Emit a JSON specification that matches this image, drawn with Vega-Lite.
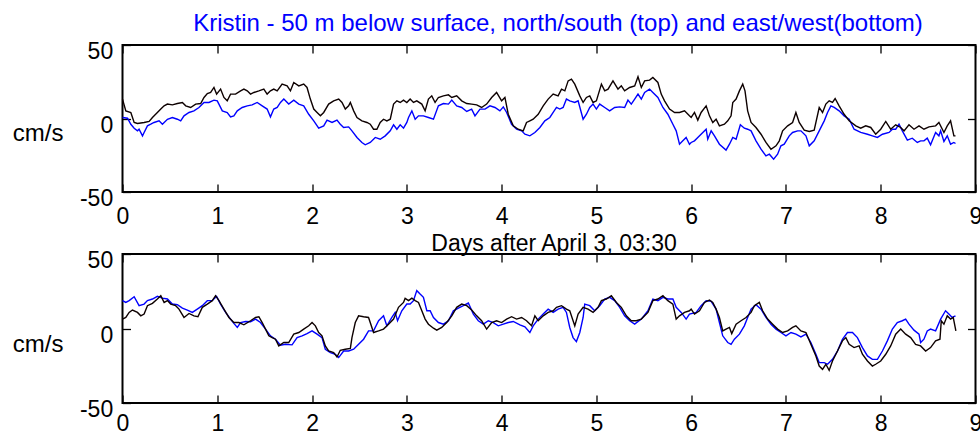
{
  "$schema": "https://vega.github.io/schema/vega-lite/v6.json",
  "usermeta": {"embedOptions": {"actions": false}},
  "background": "white",
  "padding": {"left": 10.5, "top": 10, "right": 0, "bottom": 0},
  "bounds": "flush",
  "spacing": 62,
  "datasets": {
    "ns_black": [
      {"day":0,"speed":13.2},{"day":0.035,"speed":5.2},{"day":0.088,"speed":4.1},{"day":0.123,"speed":-2.7},{"day":0.158,"speed":-3.4},{"day":0.228,"speed":-2.7},{"day":0.281,"speed":-2.0},{"day":0.316,"speed":0.7},{"day":0.368,"speed":4.1},{"day":0.404,"speed":6.4},{"day":0.439,"speed":8.6},{"day":0.474,"speed":9.8},{"day":0.526,"speed":9.3},{"day":0.579,"speed":10.2},{"day":0.632,"speed":10.9},{"day":0.667,"speed":8.6},{"day":0.719,"speed":7.5},{"day":0.772,"speed":9.8},{"day":0.825,"speed":10.2},{"day":0.86,"speed":14.3},{"day":0.895,"speed":17.0},{"day":0.93,"speed":17.7},{"day":0.965,"speed":21.1},{"day":0.993,"speed":16.6},{"day":1.035,"speed":20.0},{"day":1.07,"speed":14.3},{"day":1.105,"speed":12.0},{"day":1.14,"speed":16.6},{"day":1.193,"speed":16.6},{"day":1.246,"speed":18.8},{"day":1.281,"speed":20.0},{"day":1.316,"speed":18.8},{"day":1.351,"speed":16.6},{"day":1.386,"speed":17.7},{"day":1.439,"speed":18.8},{"day":1.491,"speed":20.0},{"day":1.526,"speed":16.6},{"day":1.561,"speed":18.8},{"day":1.596,"speed":20.0},{"day":1.632,"speed":18.8},{"day":1.684,"speed":23.4},{"day":1.737,"speed":22.2},{"day":1.772,"speed":18.8},{"day":1.807,"speed":24.5},{"day":1.86,"speed":22.2},{"day":1.912,"speed":23.4},{"day":1.947,"speed":21.1},{"day":1.982,"speed":13.2},{"day":2.018,"speed":6.4},{"day":2.053,"speed":4.1},{"day":2.088,"speed":1.8},{"day":2.123,"speed":4.1},{"day":2.175,"speed":9.8},{"day":2.228,"speed":12.0},{"day":2.281,"speed":13.2},{"day":2.316,"speed":10.9},{"day":2.351,"speed":6.4},{"day":2.386,"speed":8.6},{"day":2.404,"speed":10.9},{"day":2.439,"speed":5.2},{"day":2.474,"speed":0.7},{"day":2.526,"speed":-1.6},{"day":2.579,"speed":-2.7},{"day":2.614,"speed":-3.9},{"day":2.649,"speed":-7.3},{"day":2.684,"speed":-7.3},{"day":2.719,"speed":-2.7},{"day":2.754,"speed":-0.5},{"day":2.789,"speed":-1.6},{"day":2.825,"speed":-0.5},{"day":2.86,"speed":9.8},{"day":2.895,"speed":12.0},{"day":2.93,"speed":10.9},{"day":2.965,"speed":12.5},
      {"day":3.0,"speed":10.9},{"day":3.035,"speed":13.2},{"day":3.07,"speed":10.9},{"day":3.105,"speed":12.0},{"day":3.158,"speed":9.8},{"day":3.193,"speed":5.2},{"day":3.228,"speed":13.2},{"day":3.263,"speed":15.4},{"day":3.298,"speed":10.9},{"day":3.333,"speed":14.3},{"day":3.386,"speed":15.4},{"day":3.439,"speed":16.1},{"day":3.474,"speed":14.3},{"day":3.526,"speed":15.4},{"day":3.579,"speed":12.0},{"day":3.632,"speed":10.2},{"day":3.684,"speed":9.8},{"day":3.737,"speed":9.3},{"day":3.789,"speed":7.5},{"day":3.842,"speed":9.8},{"day":3.895,"speed":14.3},{"day":3.947,"speed":17.7},{"day":4.0,"speed":12.0},{"day":4.035,"speed":14.3},{"day":4.07,"speed":2.9},{"day":4.123,"speed":-5.0},{"day":4.175,"speed":-7.3},{"day":4.228,"speed":-8.4},{"day":4.263,"speed":-2.7},{"day":4.298,"speed":-1.6},{"day":4.333,"speed":-0.5},{"day":4.386,"speed":2.9},{"day":4.439,"speed":8.6},{"day":4.491,"speed":13.2},{"day":4.544,"speed":16.6},{"day":4.596,"speed":15.4},{"day":4.632,"speed":20.0},{"day":4.667,"speed":18.8},{"day":4.702,"speed":25.6},{"day":4.737,"speed":26.8},{"day":4.772,"speed":23.4},{"day":4.825,"speed":15.4},{"day":4.86,"speed":10.9},{"day":4.895,"speed":14.3},{"day":4.93,"speed":15.4},{"day":4.965,"speed":10.9},{"day":5.0,"speed":12.0},{"day":5.053,"speed":23.4},{"day":5.088,"speed":18.8},{"day":5.123,"speed":20.0},{"day":5.175,"speed":25.6},{"day":5.228,"speed":20.0},{"day":5.263,"speed":22.2},{"day":5.298,"speed":18.8},{"day":5.351,"speed":21.1},{"day":5.404,"speed":22.2},{"day":5.439,"speed":28.4},{"day":5.474,"speed":21.1},{"day":5.509,"speed":25.6},{"day":5.561,"speed":26.1},{"day":5.596,"speed":27.9},{"day":5.649,"speed":24.5},{"day":5.684,"speed":16.6},{"day":5.719,"speed":12.0},{"day":5.772,"speed":6.4},{"day":5.825,"speed":4.1},{"day":5.877,"speed":4.1},{"day":5.93,"speed":5.2},{"day":5.982,"speed":1.8},
      {"day":6.0,"speed":0.7},{"day":6.035,"speed":4.1},{"day":6.07,"speed":-1.1},{"day":6.105,"speed":4.1},{"day":6.158,"speed":8.6},{"day":6.193,"speed":1.8},{"day":6.228,"speed":-2.7},{"day":6.263,"speed":-0.5},{"day":6.298,"speed":-5.0},{"day":6.351,"speed":-3.9},{"day":6.386,"speed":-1.6},{"day":6.421,"speed":1.8},{"day":6.439,"speed":10.9},{"day":6.474,"speed":13.2},{"day":6.509,"speed":18.8},{"day":6.544,"speed":23.4},{"day":6.568,"speed":18.8},{"day":6.596,"speed":5.2},{"day":6.632,"speed":-2.7},{"day":6.684,"speed":-6.1},{"day":6.737,"speed":-10.7},{"day":6.789,"speed":-16.3},{"day":6.842,"speed":-20.9},{"day":6.895,"speed":-18.6},{"day":6.93,"speed":-15.2},{"day":6.965,"speed":-8.4},{"day":7.018,"speed":-5.0},{"day":7.07,"speed":-2.7},{"day":7.105,"speed":4.1},{"day":7.14,"speed":-2.7},{"day":7.193,"speed":-7.9},{"day":7.246,"speed":-8.8},{"day":7.298,"speed":-7.9},{"day":7.351,"speed":7.5},{"day":7.386,"speed":4.1},{"day":7.421,"speed":9.8},{"day":7.456,"speed":12.0},{"day":7.491,"speed":10.9},{"day":7.519,"speed":13.6},{"day":7.561,"speed":8.6},{"day":7.614,"speed":2.9},{"day":7.667,"speed":-1.6},{"day":7.737,"speed":-5.0},{"day":7.789,"speed":-6.6},{"day":7.842,"speed":-5.0},{"day":7.895,"speed":-6.1},{"day":7.947,"speed":-10.7},{"day":8.0,"speed":-7.3},{"day":8.053,"speed":-2.0},{"day":8.105,"speed":-7.3},{"day":8.158,"speed":-4.3},{"day":8.211,"speed":-6.1},{"day":8.246,"speed":-8.4},{"day":8.298,"speed":-4.3},{"day":8.351,"speed":-7.3},{"day":8.404,"speed":-5.0},{"day":8.456,"speed":-7.3},{"day":8.509,"speed":-5.7},{"day":8.579,"speed":-5.0},{"day":8.614,"speed":-2.7},{"day":8.667,"speed":-9.5},{"day":8.702,"speed":-5.0},{"day":8.737,"speed":-1.6},{"day":8.772,"speed":-11.8},{"day":8.789,"speed":-11.8}
    ],
    "ns_blue": [
      {"day":0,"speed":0.7},{"day":0.053,"speed":0.2},{"day":0.088,"speed":-3.9},{"day":0.123,"speed":-6.6},{"day":0.158,"speed":-8.4},{"day":0.175,"speed":-7.3},{"day":0.211,"speed":-11.8},{"day":0.228,"speed":-9.5},{"day":0.263,"speed":-5.0},{"day":0.298,"speed":-3.9},{"day":0.333,"speed":-2.7},{"day":0.386,"speed":-1.6},{"day":0.421,"speed":-3.9},{"day":0.474,"speed":-0.5},{"day":0.526,"speed":0.7},{"day":0.579,"speed":-0.5},{"day":0.614,"speed":-1.6},{"day":0.649,"speed":1.8},{"day":0.702,"speed":4.1},{"day":0.754,"speed":5.2},{"day":0.807,"speed":7.5},{"day":0.86,"speed":10.9},{"day":0.912,"speed":10.9},{"day":0.965,"speed":12.5},{"day":1.0,"speed":12.0},{"day":1.053,"speed":5.2},{"day":1.105,"speed":4.1},{"day":1.14,"speed":1.1},{"day":1.175,"speed":1.8},{"day":1.211,"speed":5.2},{"day":1.263,"speed":7.5},{"day":1.316,"speed":8.6},{"day":1.368,"speed":9.3},{"day":1.421,"speed":10.9},{"day":1.474,"speed":8.6},{"day":1.526,"speed":6.4},{"day":1.561,"speed":1.1},{"day":1.596,"speed":6.4},{"day":1.632,"speed":7.5},{"day":1.667,"speed":10.9},{"day":1.702,"speed":13.2},{"day":1.754,"speed":9.8},{"day":1.807,"speed":12.5},{"day":1.86,"speed":9.8},{"day":1.912,"speed":8.6},{"day":1.965,"speed":2.9},{"day":2.018,"speed":-1.6},{"day":2.07,"speed":-6.6},{"day":2.123,"speed":-5.0},{"day":2.158,"speed":-1.1},{"day":2.211,"speed":-2.7},{"day":2.263,"speed":-1.1},{"day":2.298,"speed":-3.9},{"day":2.333,"speed":-6.1},{"day":2.386,"speed":-5.7},{"day":2.421,"speed":-8.4},{"day":2.474,"speed":-12.9},{"day":2.526,"speed":-16.3},{"day":2.561,"speed":-17.9},{"day":2.614,"speed":-16.3},{"day":2.667,"speed":-12.9},{"day":2.719,"speed":-14.1},{"day":2.772,"speed":-11.8},{"day":2.825,"speed":-8.4},{"day":2.86,"speed":-4.3},{"day":2.895,"speed":-7.3},{"day":2.93,"speed":-4.3},{"day":2.965,"speed":-6.6},
      {"day":3.0,"speed":-2.7},{"day":3.018,"speed":0.7},{"day":3.053,"speed":5.2},{"day":3.088,"speed":-0.5},{"day":3.123,"speed":1.8},{"day":3.175,"speed":1.8},{"day":3.228,"speed":0.7},{"day":3.281,"speed":-0.5},{"day":3.333,"speed":8.6},{"day":3.386,"speed":10.2},{"day":3.439,"speed":9.8},{"day":3.474,"speed":12.5},{"day":3.526,"speed":8.6},{"day":3.579,"speed":7.5},{"day":3.632,"speed":4.8},{"day":3.684,"speed":6.4},{"day":3.719,"speed":1.8},{"day":3.772,"speed":6.4},{"day":3.825,"speed":6.4},{"day":3.877,"speed":8.6},{"day":3.93,"speed":7.5},{"day":3.982,"speed":5.2},{"day":4.018,"speed":7.9},{"day":4.053,"speed":4.1},{"day":4.105,"speed":-3.9},{"day":4.158,"speed":-7.3},{"day":4.211,"speed":-8.4},{"day":4.246,"speed":-10.7},{"day":4.298,"speed":-11.8},{"day":4.351,"speed":-9.5},{"day":4.404,"speed":-6.1},{"day":4.456,"speed":-1.6},{"day":4.509,"speed":0.7},{"day":4.544,"speed":4.1},{"day":4.579,"speed":7.5},{"day":4.614,"speed":6.4},{"day":4.649,"speed":7.5},{"day":4.684,"speed":13.2},{"day":4.719,"speed":12.0},{"day":4.772,"speed":10.9},{"day":4.807,"speed":12.0},{"day":4.86,"speed":-0.5},{"day":4.895,"speed":2.9},{"day":4.93,"speed":7.5},{"day":4.965,"speed":9.8},{"day":5.0,"speed":6.4},{"day":5.035,"speed":9.8},{"day":5.088,"speed":7.5},{"day":5.14,"speed":5.2},{"day":5.193,"speed":7.5},{"day":5.246,"speed":7.9},{"day":5.298,"speed":7.5},{"day":5.333,"speed":12.5},{"day":5.368,"speed":9.8},{"day":5.404,"speed":13.2},{"day":5.439,"speed":16.6},{"day":5.474,"speed":13.2},{"day":5.509,"speed":17.7},{"day":5.561,"speed":20.0},{"day":5.596,"speed":17.7},{"day":5.649,"speed":14.3},{"day":5.702,"speed":7.5},{"day":5.754,"speed":2.9},{"day":5.807,"speed":-3.9},{"day":5.842,"speed":-8.4},{"day":5.877,"speed":-17.5},{"day":5.912,"speed":-15.2},{"day":5.947,"speed":-12.9},{"day":5.982,"speed":-17.5},
      {"day":6.0,"speed":-16.3},{"day":6.035,"speed":-15.2},{"day":6.07,"speed":-12.9},{"day":6.123,"speed":-9.5},{"day":6.158,"speed":-7.3},{"day":6.175,"speed":-14.1},{"day":6.211,"speed":-8.4},{"day":6.246,"speed":-11.8},{"day":6.298,"speed":-17.5},{"day":6.368,"speed":-21.5},{"day":6.404,"speed":-17.5},{"day":6.439,"speed":-12.9},{"day":6.474,"speed":-14.1},{"day":6.519,"speed":-4.3},{"day":6.561,"speed":-6.6},{"day":6.596,"speed":-7.3},{"day":6.632,"speed":-8.4},{"day":6.684,"speed":-15.2},{"day":6.737,"speed":-20.9},{"day":6.789,"speed":-25.4},{"day":6.825,"speed":-24.3},{"day":6.87,"speed":-27.7},{"day":6.912,"speed":-24.3},{"day":6.947,"speed":-18.6},{"day":6.982,"speed":-17.5},{"day":7.035,"speed":-11.8},{"day":7.07,"speed":-9.5},{"day":7.123,"speed":-8.4},{"day":7.158,"speed":-8.4},{"day":7.211,"speed":-11.8},{"day":7.246,"speed":-18.6},{"day":7.298,"speed":-15.2},{"day":7.351,"speed":-8.4},{"day":7.404,"speed":-1.6},{"day":7.439,"speed":4.1},{"day":7.474,"speed":8.6},{"day":7.509,"speed":7.5},{"day":7.561,"speed":5.2},{"day":7.614,"speed":1.8},{"day":7.667,"speed":-0.5},{"day":7.719,"speed":-7.3},{"day":7.789,"speed":-9.5},{"day":7.86,"speed":-10.7},{"day":7.912,"speed":-11.8},{"day":7.965,"speed":-12.9},{"day":8.018,"speed":-10.7},{"day":8.088,"speed":-9.5},{"day":8.123,"speed":-7.3},{"day":8.158,"speed":-7.3},{"day":8.193,"speed":-3.9},{"day":8.228,"speed":-8.4},{"day":8.281,"speed":-14.7},{"day":8.333,"speed":-13.4},{"day":8.386,"speed":-16.3},{"day":8.421,"speed":-15.2},{"day":8.456,"speed":-15.2},{"day":8.491,"speed":-13.4},{"day":8.526,"speed":-17.9},{"day":8.579,"speed":-9.5},{"day":8.614,"speed":-11.8},{"day":8.632,"speed":-8.4},{"day":8.667,"speed":-15.6},{"day":8.702,"speed":-11.8},{"day":8.737,"speed":-17.5},{"day":8.772,"speed":-16.3},{"day":8.789,"speed":-17.0}
    ],
    "ew_black": [
      {"day":0,"speed":6.3},{"day":0.035,"speed":7.4},{"day":0.07,"speed":10.8},{"day":0.105,"speed":12.4},{"day":0.158,"speed":10.8},{"day":0.193,"speed":8.5},{"day":0.228,"speed":9.7},{"day":0.263,"speed":15.3},{"day":0.316,"speed":16.9},{"day":0.368,"speed":19.8},{"day":0.404,"speed":22.0},{"day":0.439,"speed":17.5},{"day":0.474,"speed":18.7},{"day":0.509,"speed":16.4},{"day":0.561,"speed":15.3},{"day":0.596,"speed":13.0},{"day":0.649,"speed":7.4},{"day":0.702,"speed":10.1},{"day":0.754,"speed":8.5},{"day":0.796,"speed":7.9},{"day":0.842,"speed":14.2},{"day":0.895,"speed":16.4},{"day":0.947,"speed":18.7},{"day":0.982,"speed":22.0},{"day":1.018,"speed":18.7},{"day":1.07,"speed":13.0},{"day":1.123,"speed":7.4},{"day":1.175,"speed":4.0},{"day":1.228,"speed":4.0},{"day":1.281,"speed":2.5},{"day":1.351,"speed":5.2},{"day":1.404,"speed":7.4},{"day":1.439,"speed":7.9},{"day":1.474,"speed":4.0},{"day":1.509,"speed":-0.4},{"day":1.544,"speed":-4.9},{"day":1.579,"speed":-6.1},{"day":1.614,"speed":-7.2},{"day":1.649,"speed":-11.7},{"day":1.702,"speed":-9.4},{"day":1.754,"speed":-9.4},{"day":1.807,"speed":-3.8},{"day":1.86,"speed":-2.7},{"day":1.912,"speed":-0.4},{"day":1.965,"speed":1.8},{"day":2.0,"speed":4.0},{"day":2.035,"speed":1.8},{"day":2.07,"speed":-2.7},{"day":2.105,"speed":-4.9},{"day":2.14,"speed":-11.7},{"day":2.175,"speed":-15.1},{"day":2.228,"speed":-16.2},{"day":2.263,"speed":-19.1},{"day":2.298,"speed":-14.6},{"day":2.351,"speed":-13.9},{"day":2.404,"speed":-13.3},{"day":2.421,"speed":-6.1},{"day":2.456,"speed":4.0},{"day":2.491,"speed":8.5},{"day":2.544,"speed":7.9},{"day":2.596,"speed":7.4},{"day":2.649,"speed":-2.7},{"day":2.702,"speed":-1.6},{"day":2.754,"speed":-0.4},{"day":2.807,"speed":2.9},{"day":2.86,"speed":6.3},{"day":2.912,"speed":14.2},{"day":2.965,"speed":17.5},{"day":2.982,"speed":20.2},
      {"day":3.018,"speed":18.7},{"day":3.053,"speed":20.4},{"day":3.088,"speed":18.7},{"day":3.123,"speed":17.5},{"day":3.158,"speed":11.9},{"day":3.193,"speed":6.3},{"day":3.228,"speed":2.9},{"day":3.281,"speed":0.2},{"day":3.316,"speed":-1.1},{"day":3.368,"speed":0.7},{"day":3.421,"speed":4.0},{"day":3.474,"speed":8.5},{"day":3.526,"speed":14.2},{"day":3.579,"speed":16.4},{"day":3.632,"speed":15.3},{"day":3.684,"speed":12.4},{"day":3.737,"speed":8.5},{"day":3.789,"speed":5.2},{"day":3.842,"speed":-0.4},{"day":3.895,"speed":4.0},{"day":3.947,"speed":5.2},{"day":4.0,"speed":4.0},{"day":4.053,"speed":6.3},{"day":4.105,"speed":7.9},{"day":4.158,"speed":6.3},{"day":4.211,"speed":7.4},{"day":4.263,"speed":5.2},{"day":4.316,"speed":1.8},{"day":4.351,"speed":8.5},{"day":4.386,"speed":5.2},{"day":4.439,"speed":8.5},{"day":4.491,"speed":10.8},{"day":4.544,"speed":11.9},{"day":4.579,"speed":14.2},{"day":4.632,"speed":15.3},{"day":4.684,"speed":13.0},{"day":4.719,"speed":11.9},{"day":4.754,"speed":5.2},{"day":4.772,"speed":1.8},{"day":4.807,"speed":9.7},{"day":4.86,"speed":14.2},{"day":4.912,"speed":13.0},{"day":4.965,"speed":10.8},{"day":5.018,"speed":14.2},{"day":5.053,"speed":18.7},{"day":5.105,"speed":19.8},{"day":5.158,"speed":22.0},{"day":5.211,"speed":17.5},{"day":5.263,"speed":14.2},{"day":5.316,"speed":8.5},{"day":5.368,"speed":5.2},{"day":5.421,"speed":5.2},{"day":5.474,"speed":6.3},{"day":5.544,"speed":10.8},{"day":5.596,"speed":18.7},{"day":5.649,"speed":19.8},{"day":5.702,"speed":22.0},{"day":5.754,"speed":18.7},{"day":5.807,"speed":16.4},{"day":5.842,"speed":6.3},{"day":5.877,"speed":8.5},{"day":5.93,"speed":10.8},{"day":5.982,"speed":11.9},
      {"day":6.0,"speed":13.0},{"day":6.035,"speed":9.7},{"day":6.088,"speed":11.9},{"day":6.14,"speed":17.5},{"day":6.193,"speed":19.1},{"day":6.228,"speed":17.5},{"day":6.263,"speed":13.0},{"day":6.298,"speed":7.4},{"day":6.333,"speed":-1.6},{"day":6.368,"speed":-0.4},{"day":6.404,"speed":0.7},{"day":6.428,"speed":-3.4},{"day":6.474,"speed":2.9},{"day":6.526,"speed":5.2},{"day":6.579,"speed":7.4},{"day":6.632,"speed":10.8},{"day":6.667,"speed":15.3},{"day":6.719,"speed":17.5},{"day":6.754,"speed":11.9},{"day":6.807,"speed":6.3},{"day":6.86,"speed":2.9},{"day":6.912,"speed":-0.4},{"day":6.965,"speed":-2.7},{"day":7.018,"speed":-1.6},{"day":7.07,"speed":0.7},{"day":7.105,"speed":1.8},{"day":7.158,"speed":-1.6},{"day":7.211,"speed":-2.7},{"day":7.263,"speed":-10.6},{"day":7.316,"speed":-18.4},{"day":7.351,"speed":-25.2},{"day":7.386,"speed":-27.4},{"day":7.421,"speed":-24.0},{"day":7.456,"speed":-28.1},{"day":7.491,"speed":-21.8},{"day":7.544,"speed":-15.1},{"day":7.596,"speed":-8.3},{"day":7.632,"speed":-6.1},{"day":7.667,"speed":-10.6},{"day":7.719,"speed":-12.8},{"day":7.772,"speed":-11.7},{"day":7.807,"speed":-17.3},{"day":7.86,"speed":-21.8},{"day":7.912,"speed":-25.2},{"day":7.947,"speed":-24.0},{"day":8.0,"speed":-21.8},{"day":8.053,"speed":-17.3},{"day":8.105,"speed":-11.7},{"day":8.158,"speed":-3.8},{"day":8.211,"speed":-0.4},{"day":8.263,"speed":-3.8},{"day":8.316,"speed":-6.1},{"day":8.368,"speed":-10.6},{"day":8.421,"speed":-11.7},{"day":8.474,"speed":-15.1},{"day":8.526,"speed":-12.8},{"day":8.579,"speed":-8.3},{"day":8.625,"speed":-7.2},{"day":8.639,"speed":5.2},{"day":8.667,"speed":2.9},{"day":8.702,"speed":8.5},{"day":8.737,"speed":6.3},{"day":8.765,"speed":7.4},{"day":8.793,"speed":-1.6}
    ],
    "ew_blue": [
      {"day":0,"speed":18.7},{"day":0.035,"speed":17.5},{"day":0.07,"speed":18.7},{"day":0.123,"speed":21.3},{"day":0.175,"speed":15.3},{"day":0.228,"speed":16.4},{"day":0.263,"speed":18.7},{"day":0.316,"speed":19.8},{"day":0.368,"speed":21.6},{"day":0.421,"speed":20.4},{"day":0.474,"speed":19.8},{"day":0.526,"speed":16.4},{"day":0.579,"speed":16.0},{"day":0.632,"speed":13.7},{"day":0.684,"speed":12.4},{"day":0.737,"speed":10.8},{"day":0.789,"speed":13.0},{"day":0.842,"speed":15.3},{"day":0.895,"speed":18.7},{"day":0.947,"speed":18.7},{"day":0.993,"speed":21.6},{"day":1.035,"speed":16.4},{"day":1.088,"speed":10.8},{"day":1.14,"speed":6.3},{"day":1.175,"speed":3.4},{"day":1.211,"speed":0.7},{"day":1.246,"speed":4.0},{"day":1.298,"speed":4.7},{"day":1.351,"speed":4.5},{"day":1.404,"speed":6.3},{"day":1.456,"speed":4.0},{"day":1.509,"speed":-0.4},{"day":1.561,"speed":-4.9},{"day":1.614,"speed":-7.2},{"day":1.667,"speed":-11.2},{"day":1.719,"speed":-10.6},{"day":1.789,"speed":-11.0},{"day":1.842,"speed":-6.1},{"day":1.895,"speed":-4.9},{"day":1.947,"speed":-3.4},{"day":2.0,"speed":-1.6},{"day":2.053,"speed":-3.8},{"day":2.105,"speed":-6.1},{"day":2.14,"speed":-13.9},{"day":2.193,"speed":-16.2},{"day":2.246,"speed":-17.3},{"day":2.281,"speed":-19.5},{"day":2.333,"speed":-15.1},{"day":2.386,"speed":-15.1},{"day":2.439,"speed":-13.9},{"day":2.491,"speed":-10.6},{"day":2.544,"speed":-7.2},{"day":2.596,"speed":-1.6},{"day":2.649,"speed":-1.6},{"day":2.702,"speed":5.2},{"day":2.754,"speed":8.5},{"day":2.789,"speed":1.8},{"day":2.842,"speed":7.4},{"day":2.877,"speed":10.8},{"day":2.902,"speed":5.2},{"day":2.947,"speed":11.9},{"day":3.0,"speed":16.4},
      {"day":3.035,"speed":16.4},{"day":3.07,"speed":18.7},{"day":3.105,"speed":25.4},{"day":3.14,"speed":23.1},{"day":3.175,"speed":20.9},{"day":3.211,"speed":11.9},{"day":3.246,"speed":11.9},{"day":3.281,"speed":7.4},{"day":3.333,"speed":4.0},{"day":3.386,"speed":2.9},{"day":3.439,"speed":5.2},{"day":3.491,"speed":11.9},{"day":3.544,"speed":13.7},{"day":3.596,"speed":15.3},{"day":3.649,"speed":17.1},{"day":3.702,"speed":9.7},{"day":3.754,"speed":5.2},{"day":3.807,"speed":2.9},{"day":3.86,"speed":5.2},{"day":3.912,"speed":4.0},{"day":3.965,"speed":1.8},{"day":4.018,"speed":2.9},{"day":4.07,"speed":4.0},{"day":4.123,"speed":4.7},{"day":4.193,"speed":2.5},{"day":4.246,"speed":1.1},{"day":4.298,"speed":-2.7},{"day":4.333,"speed":1.8},{"day":4.386,"speed":6.3},{"day":4.439,"speed":9.7},{"day":4.491,"speed":13.0},{"day":4.544,"speed":10.8},{"day":4.596,"speed":13.0},{"day":4.649,"speed":14.2},{"day":4.684,"speed":10.8},{"day":4.719,"speed":0.7},{"day":4.754,"speed":-6.1},{"day":4.789,"speed":-8.8},{"day":4.825,"speed":-2.7},{"day":4.86,"speed":7.4},{"day":4.877,"speed":16.4},{"day":4.93,"speed":15.3},{"day":4.982,"speed":11.9},{"day":5.035,"speed":15.3},{"day":5.088,"speed":19.8},{"day":5.14,"speed":20.9},{"day":5.193,"speed":18.7},{"day":5.246,"speed":14.2},{"day":5.298,"speed":8.5},{"day":5.351,"speed":5.2},{"day":5.404,"speed":2.9},{"day":5.474,"speed":6.3},{"day":5.544,"speed":11.9},{"day":5.596,"speed":19.8},{"day":5.649,"speed":18.7},{"day":5.702,"speed":20.9},{"day":5.754,"speed":19.8},{"day":5.807,"speed":19.8},{"day":5.842,"speed":14.2},{"day":5.895,"speed":10.8},{"day":5.947,"speed":6.3},{"day":5.982,"speed":9.7},
      {"day":6.053,"speed":10.8},{"day":6.105,"speed":15.3},{"day":6.158,"speed":18.7},{"day":6.211,"speed":18.2},{"day":6.263,"speed":13.0},{"day":6.298,"speed":4.0},{"day":6.333,"speed":-4.9},{"day":6.386,"speed":-9.4},{"day":6.421,"speed":-10.6},{"day":6.456,"speed":-7.2},{"day":6.509,"speed":-3.8},{"day":6.561,"speed":1.8},{"day":6.596,"speed":7.4},{"day":6.632,"speed":13.0},{"day":6.684,"speed":16.0},{"day":6.737,"speed":13.0},{"day":6.789,"speed":7.4},{"day":6.842,"speed":2.9},{"day":6.895,"speed":-0.4},{"day":6.947,"speed":-2.7},{"day":7.0,"speed":-4.9},{"day":7.053,"speed":-2.7},{"day":7.105,"speed":-3.8},{"day":7.158,"speed":-5.6},{"day":7.211,"speed":-3.8},{"day":7.263,"speed":-9.4},{"day":7.316,"speed":-17.3},{"day":7.351,"speed":-22.9},{"day":7.404,"speed":-22.9},{"day":7.439,"speed":-24.0},{"day":7.491,"speed":-20.7},{"day":7.544,"speed":-15.1},{"day":7.596,"speed":-7.2},{"day":7.649,"speed":-2.7},{"day":7.702,"speed":-2.7},{"day":7.754,"speed":-6.1},{"day":7.807,"speed":-12.8},{"day":7.86,"speed":-18.4},{"day":7.912,"speed":-20.7},{"day":7.965,"speed":-20.7},{"day":8.018,"speed":-15.1},{"day":8.07,"speed":-8.3},{"day":8.123,"speed":-0.4},{"day":8.175,"speed":4.0},{"day":8.228,"speed":5.2},{"day":8.263,"speed":6.3},{"day":8.298,"speed":2.9},{"day":8.351,"speed":-1.1},{"day":8.404,"speed":-3.8},{"day":8.421,"speed":-9.4},{"day":8.456,"speed":-7.2},{"day":8.491,"speed":-1.6},{"day":8.526,"speed":-0.4},{"day":8.579,"speed":-1.6},{"day":8.632,"speed":6.3},{"day":8.684,"speed":11.9},{"day":8.719,"speed":9.7},{"day":8.754,"speed":7.4},{"day":8.789,"speed":8.5}
    ]
  },
  "config": {
    "view": {"stroke": "black", "strokeWidth": 2},
    "font": "Liberation Sans",
    "axis": {
      "domain": false,
      "grid": false,
      "tickColor": "black",
      "tickWidth": 1.3,
      "tickSize": -8,
      "labelColor": "black",
      "labelFont": "Liberation Sans",
      "labelFontSize": 23,
      "labelExpr": "'' + datum.value",
      "titleFont": "Liberation Sans",
      "titleFontSize": 24,
      "titleFontWeight": "normal",
      "titleColor": "black"
    }
  },
  "vconcat": [
    {
      "width": 853,
      "height": 147,
      "title": {
        "text": "Kristin - 50 m below surface, north/south (top) and east/west(bottom)",
        "color": "#0000ff",
        "font": "Liberation Sans",
        "fontSize": 24,
        "fontWeight": "normal",
        "anchor": "middle",
        "frame": "group",
        "dx": 9,
        "offset": 5
      },
      "layer": [
        {
          "data": {"name": "ns_blue"},
          "mark": {"type": "line", "color": "#0000ff", "strokeWidth": 1.4},
          "encoding": {
            "x": {"field": "day", "type": "quantitative", "scale": {"domain": [0, 9], "nice": false},
              "axis": {"orient": "bottom", "values": [0,1,2,3,4,5,6,7,8,9], "labelPadding": 21.3, "labelFlush": false,
                "title": "Days after April 3, 03:30", "titleFontSize": 23, "titleX": 431, "titleY": 58.6, "titleBaseline": "alphabetic", "titleAlign": "center"}},
            "y": {"field": "speed", "type": "quantitative", "scale": {"domain": [-50, 50], "nice": false},
              "axis": {"orient": "left", "values": [-50, 0, 50], "labelPadding": 17.8, "labelOffset": 6.5,
                "title": "cm/s", "titleAngle": 0, "titleAlign": "right", "titleBaseline": "middle", "titleX": -59.5, "titleY": 88.5}}
          }
        },
        {
          "data": {"name": "ns_black"},
          "mark": {"type": "line", "color": "#0d0000", "strokeWidth": 1.4},
          "encoding": {
            "x": {"field": "day", "type": "quantitative", "scale": {"domain": [0, 9], "nice": false},
              "axis": {"orient": "top", "values": [0,1,2,3,4,5,6,7,8,9], "labels": false, "title": null}},
            "y": {"field": "speed", "type": "quantitative", "scale": {"domain": [-50, 50], "nice": false},
              "axis": {"orient": "right", "values": [-50, 0, 50], "labels": false, "title": null}}
          }
        }
      ]
    },
    {
      "width": 853,
      "height": 149,
      "layer": [
        {
          "data": {"name": "ew_blue"},
          "mark": {"type": "line", "color": "#0000ff", "strokeWidth": 1.4},
          "encoding": {
            "x": {"field": "day", "type": "quantitative", "scale": {"domain": [0, 9], "nice": false},
              "axis": {"orient": "bottom", "values": [0,1,2,3,4,5,6,7,8,9], "labelPadding": 17.9, "labelFlush": false, "title": null}},
            "y": {"field": "speed", "type": "quantitative", "scale": {"domain": [-50, 50], "nice": false},
              "axis": {"orient": "left", "values": [-50, 0, 50], "labelPadding": 17.8, "labelOffset": 6.5,
                "title": "cm/s", "titleAngle": 0, "titleAlign": "right", "titleBaseline": "middle", "titleX": -59.5, "titleY": 90}}
          }
        },
        {
          "data": {"name": "ew_black"},
          "mark": {"type": "line", "color": "#0d0000", "strokeWidth": 1.4},
          "encoding": {
            "x": {"field": "day", "type": "quantitative", "scale": {"domain": [0, 9], "nice": false},
              "axis": {"orient": "top", "values": [0,1,2,3,4,5,6,7,8,9], "labels": false, "title": null}},
            "y": {"field": "speed", "type": "quantitative", "scale": {"domain": [-50, 50], "nice": false},
              "axis": {"orient": "right", "values": [-50, 0, 50], "labels": false, "title": null}}
          }
        }
      ]
    }
  ]
}
